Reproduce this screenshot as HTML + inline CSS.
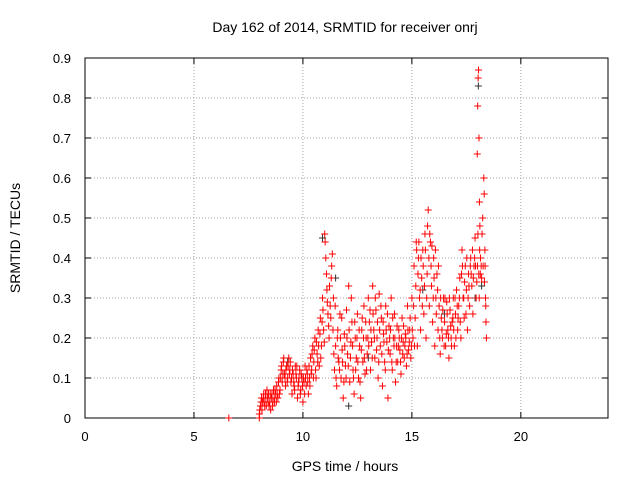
<!DOCTYPE html>
<html><head><meta charset="utf-8"><style>
body{margin:0;background:#fff}
svg{display:block;font-family:"Liberation Sans",sans-serif}
</style></head><body>
<svg id="c" width="640" height="480">
<text x="345" y="32" text-anchor="middle" font-size="14">Day 162 of 2014, SRMTID for receiver onrj</text>
<text x="345" y="471" text-anchor="middle" font-size="14">GPS time / hours</text>
<text transform="translate(20,238) rotate(-90)" text-anchor="middle" font-size="14">SRMTID / TECUs</text>
<g id="grid"></g><g id="axes"></g><g id="marks"></g>
</svg>
<script>
const xTicks=[0,5,10,15,20];
const yTicks=[0,0.1,0.2,0.3,0.4,0.5,0.6,0.7,0.8,0.9];
const redTimes=[6.6,8.0,8.0,8.05,8.1,8.15,8.2,8.25,8.3,8.35,8.4,8.45,8.5,8.55,8.6,8.65,8.7,8.75,8.8,8.85,8.9,8.95,9.0,9.05,9.1,9.15,9.2,9.25,9.3,9.35,9.4,9.45,9.5,9.55,9.6,9.65,9.7,9.75,9.8,9.85,9.9,9.95,10.0,10.05,10.1,10.15,10.2,10.25,10.3,10.35,10.4,10.45,10.5,10.55,10.6,10.65,10.7,10.75,10.8,10.85,10.9,10.95,11.0,11.02,11.05,11.1,11.15,11.2,11.25,11.3,11.35,11.4,11.45,11.5,11.55,11.6,11.65,11.7,11.75,11.8,11.85,11.9,11.95,12.0,12.05,12.1,12.15,12.2,12.25,12.3,12.35,12.4,12.45,12.5,12.55,12.6,12.65,12.7,12.75,12.8,12.85,12.9,12.95,13.0,13.05,13.1,13.15,13.2,13.25,13.3,13.35,13.4,13.45,13.5,13.55,13.6,13.65,13.7,13.75,13.8,13.85,13.9,13.95,14.0,14.05,14.1,14.15,14.2,14.25,14.3,14.35,14.4,14.45,14.5,14.55,14.6,14.65,14.7,14.75,14.8,14.85,14.9,14.95,15.0,15.05,15.1,15.15,15.2,15.25,15.3,15.35,15.4,15.45,15.5,15.55,15.6,15.65,15.7,15.75,15.8,15.85,15.9,15.95,16.0,16.05,16.1,16.15,16.2,16.25,16.3,16.35,16.4,16.45,16.5,16.55,16.6,16.65,16.7,16.75,16.8,16.85,16.9,16.95,17.0,17.05,17.1,17.15,17.2,17.25,17.3,17.35,17.4,17.45,17.5,17.55,17.6,17.65,17.7,17.75,17.8,17.85,17.9,17.95,18.0,18.02,18.04,18.06,18.08,18.1,18.12,18.15,18.2,18.25,18.3,18.32,18.35,18.38,18.4,18.42,
8.02,8.08,8.12,8.18,8.22,8.28,8.32,8.38,8.42,8.48,8.52,8.58,8.62,8.68,8.72,8.78,8.82,8.88,8.92,8.98,9.02,9.08,9.12,9.18,9.22,9.28,9.32,9.38,9.42,9.48,9.52,9.58,9.62,9.68,9.72,9.78,9.82,9.88,9.92,9.98,10.02,10.08,10.12,10.18,10.22,10.28,10.32,10.38,10.42,10.48,10.52,10.58,10.62,10.68,10.72,10.78,10.82,10.88,10.92,10.98,11.08,11.12,11.18,11.22,11.28,11.32,11.38,11.42,11.48,11.52,11.58,11.62,11.68,11.72,11.78,11.82,11.88,11.92,11.98,12.02,12.08,12.12,12.18,12.22,12.28,12.32,12.38,12.42,12.48,12.52,12.58,12.62,12.68,12.72,12.78,12.82,12.88,12.92,12.98,13.02,13.08,13.12,13.18,13.22,13.28,13.32,13.38,13.42,13.48,13.52,13.58,13.62,13.68,13.72,13.78,13.82,13.88,13.92,13.98,14.02,14.08,14.12,14.18,14.22,14.28,14.32,14.38,14.42,14.48,14.52,14.58,14.62,14.68,14.72,14.78,14.82,14.88,14.92,14.98,15.02,15.08,15.12,15.18,15.22,15.28,15.32,15.38,15.42,15.48,15.52,15.58,15.62,15.68,15.72,15.78,15.82,15.88,15.92,15.98,16.02,16.08,16.12,16.18,16.22,16.28,16.32,16.38,16.42,16.48,16.52,16.58,16.62,16.68,16.72,16.78,16.82,16.88,16.92,16.98,17.02,17.08,17.12,17.18,17.22,17.28,17.32,17.38,17.42,17.48,17.52,17.58,17.62,17.68,17.72,17.78,17.82,17.88,17.92,17.98,18.01,18.03,18.07,18.09,18.11,18.14,18.18,18.22,18.27,18.33,18.36,18.39];
const redValues=[0,0,0.01,0.03,0.05,0.04,0.06,0.03,0.05,0.07,0.04,0.03,0.06,0.05,0.03,0.07,0.04,0.06,0.08,0.05,0.1,0.07,0.12,0.09,0.14,0.11,0.08,0.13,0.1,0.15,0.12,0.09,0.06,0.11,0.08,0.13,0.1,0.05,0.09,0.12,0.07,0.1,0.04,0.09,0.13,0.08,0.11,0.06,0.1,0.15,0.12,0.18,0.14,0.2,0.1,0.16,0.22,0.13,0.25,0.18,0.3,0.22,0.46,0.44,0.4,0.32,0.26,0.2,0.28,0.35,0.41,0.3,0.12,0.18,0.08,0.22,0.14,0.26,0.1,0.17,0.05,0.21,0.13,0.27,0.16,0.33,0.09,0.19,0.24,0.12,0.06,0.2,0.15,0.26,0.1,0.18,0.05,0.22,0.14,0.28,0.11,0.2,0.16,0.3,0.24,0.12,0.19,0.33,0.22,0.15,0.27,0.2,0.1,0.31,0.18,0.25,0.08,0.21,0.14,0.28,0.19,0.05,0.23,0.16,0.3,0.12,0.2,0.26,0.09,0.18,0.14,0.22,0.17,0.11,0.25,0.19,0.15,0.21,0.13,0.28,0.17,0.22,0.15,0.3,0.2,0.38,0.25,0.44,0.18,0.4,0.3,0.22,0.35,0.42,0.26,0.46,0.2,0.36,0.52,0.28,0.44,0.33,0.24,0.4,0.18,0.3,0.36,0.22,0.28,0.16,0.25,0.2,0.3,0.24,0.18,0.29,0.22,0.15,0.27,0.2,0.24,0.3,0.18,0.26,0.32,0.22,0.28,0.35,0.2,0.42,0.3,0.25,0.38,0.32,0.22,0.36,0.28,0.4,0.33,0.26,0.38,0.45,0.3,0.66,0.78,0.85,0.87,0.7,0.54,0.48,0.4,0.35,0.5,0.6,0.56,0.42,0.3,0.24,0.2,
0.02,0.04,0.02,0.05,0.04,0.06,0.03,0.05,0.06,0.04,0.02,0.06,0.04,0.05,0.07,0.04,0.06,0.09,0.06,0.1,0.13,0.11,0.15,0.1,0.12,0.09,0.13,0.11,0.14,0.1,0.12,0.09,0.07,0.11,0.13,0.08,0.1,0.06,0.11,0.08,0.1,0.06,0.1,0.12,0.09,0.13,0.08,0.11,0.16,0.1,0.17,0.12,0.19,0.14,0.18,0.21,0.15,0.24,0.27,0.19,0.36,0.29,0.23,0.33,0.25,0.38,0.22,0.16,0.28,0.1,0.2,0.15,0.12,0.2,0.25,0.14,0.09,0.18,0.1,0.2,0.13,0.22,0.15,0.3,0.18,0.1,0.24,0.12,0.2,0.14,0.22,0.09,0.17,0.25,0.2,0.15,0.24,0.12,0.2,0.18,0.27,0.22,0.15,0.26,0.2,0.3,0.17,0.24,0.14,0.22,0.28,0.16,0.24,0.19,0.12,0.22,0.26,0.17,0.2,0.22,0.14,0.25,0.18,0.2,0.14,0.23,0.18,0.2,0.14,0.2,0.16,0.23,0.18,0.2,0.16,0.22,0.19,0.25,0.18,0.22,0.28,0.18,0.33,0.42,0.36,0.44,0.32,0.4,0.28,0.38,0.33,0.42,0.3,0.48,0.4,0.46,0.38,0.43,0.3,0.35,0.42,0.26,0.32,0.38,0.2,0.3,0.22,0.27,0.18,0.3,0.21,0.26,0.2,0.3,0.23,0.18,0.25,0.22,0.3,0.2,0.28,0.25,0.3,0.24,0.36,0.38,0.3,0.34,0.26,0.4,0.3,0.33,0.38,0.36,0.42,0.35,0.4,0.38,0.34,0.38,0.46,0.36,0.3,0.42,0.36,0.38,0.46,0.38,0.34,0.38,0.28];
const blackTimes=[9.3,10.9,11.5,12.1,13.0,15.5,16.5,17.9,18.05,18.2];
const blackValues=[0.14,0.45,0.35,0.03,0.15,0.32,0.26,0.3,0.83,0.33];

const X0=85,X1=608,Y0=418,Y1=58;
const xs=v=>X0+(v/24)*(X1-X0);
const ys=v=>Y0-(v/0.9)*(Y0-Y1);
const NS="http://www.w3.org/2000/svg";
function mk(tag,attrs,parent){const e=document.createElementNS(NS,tag);for(const k in attrs)e.setAttribute(k,attrs[k]);parent.appendChild(e);return e;}
const grid=document.getElementById('grid'),axes=document.getElementById('axes'),marks=document.getElementById('marks');
xTicks.forEach(t=>{const x=xs(t);
 if(t>0){const g=mk('line',{x1:x,x2:x,y1:Y1,y2:Y0,stroke:'#a0a0a0','stroke-dasharray':'1,2'},grid);
 
 }
 mk('line',{x1:x,x2:x,y1:Y0,y2:Y0-6,stroke:'#000'},axes);mk('line',{x1:x,x2:x,y1:Y1,y2:Y1+6,stroke:'#000'},axes);
 const l=mk('text',{x:x,y:Y0+23,'text-anchor':'middle','font-size':'13'},axes);l.textContent=t;
 
 });
yTicks.forEach(t=>{const y=ys(t);
 if(t>0&&t<0.9){const g=mk('line',{x1:X0,x2:X1,y1:y,y2:y,stroke:'#a0a0a0','stroke-dasharray':'1,2'},grid);
 
 }
 mk('line',{x1:X0,x2:X0+6,y1:y,y2:y,stroke:'#000'},axes);mk('line',{x1:X1,x2:X1-6,y1:y,y2:y,stroke:'#000'},axes);
 const l=mk('text',{x:X0-14,y:y+5,'text-anchor':'end','font-size':'13'},axes);l.textContent=String(t);
 
 });
const fr=mk('rect',{x:X0,y:Y1,width:X1-X0,height:Y0-Y1,fill:'none',stroke:'#000'},axes);


function plus(x,y,c,name){const p=mk('path',{d:`M${x-3.5},${y}h7M${x},${y-3.5}v7`,stroke:c,'stroke-width':'1'},marks);
 
 }
blackTimes.forEach((t,i)=>plus(xs(t),ys(blackValues[i]),'#333','black-point'));
redTimes.forEach((t,i)=>plus(xs(t),ys(redValues[i]),'#f00','red-point'));
</script>
</body></html>
